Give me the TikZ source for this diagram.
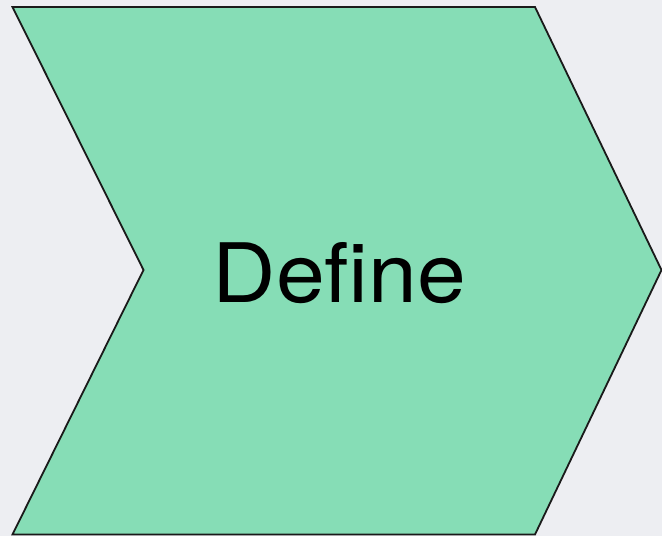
\documentclass[tikz,border=0pt]{standalone}
\usepackage{fontspec}
\setmainfont{TeX Gyre Heros}[FakeStretch=1.07]
\definecolor{bgc}{HTML}{EDEEF2}
\definecolor{chev}{HTML}{86DDB6}
\definecolor{edge}{HTML}{1A1A1A}
\begin{document}
\begin{tikzpicture}[x=1pt,y=-1pt,
  chevron/.style={fill=chev,draw=edge,line width=1.8pt,line join=miter},
  lbl/.style={font=\fontsize{82}{90}\selectfont,text=black,inner sep=0pt,anchor=base}]
\fill[bgc] (0,0) rectangle (662,536);
\useasboundingbox (0,0) rectangle (662,536);
\coordinate (tl) at (12.5,7);
\coordinate (tr) at (535,7);
\coordinate (tip) at (661.5,270);
\coordinate (br) at (535,534.5);
\coordinate (bl) at (12.5,534.5);
\coordinate (notch) at (143.5,270);
\draw[chevron] (tl) -- (tr) -- (tip) -- (br) -- (bl) -- (notch) -- cycle;
\node[lbl] (t) at (339.5,302) {Define};
\end{tikzpicture}
\end{document}
